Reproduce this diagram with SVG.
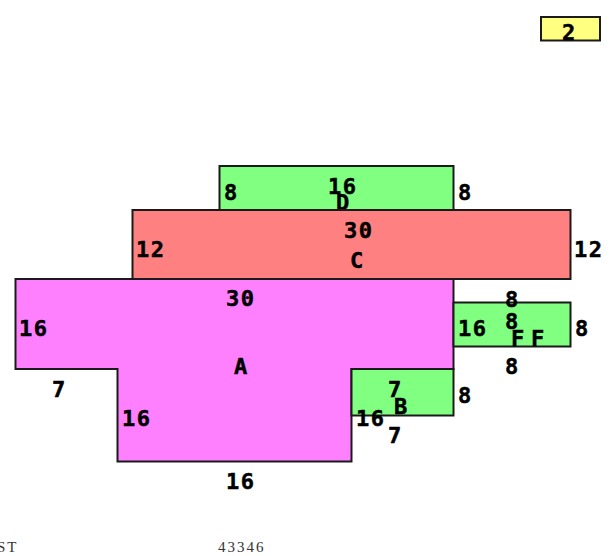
<svg xmlns="http://www.w3.org/2000/svg" width="613" height="556" viewBox="0 0 613 556">
<style>
.s{stroke:#1a1a1a;stroke-width:2}
.g{fill:#80ff80}.r{fill:#ff8080}.m{fill:#ff80ff}.y{fill:#ffff80}
text.t{font-family:"DejaVu Sans Mono",monospace;font-weight:700;font-size:22px;fill:#000;stroke:#000;stroke-width:.5px;letter-spacing:1.6px}
text.n{font-family:"Liberation Serif",serif;font-size:15px;fill:#333;letter-spacing:2px}
</style>
<rect width="613" height="556" fill="#fff"/>
<g id="node-D"><rect class="s g" x="219.5" y="166" width="234" height="44"/><text class="t" x="224" y="200">8</text><text class="t" x="328" y="194">16</text><text class="t" x="336" y="210">D</text><text class="t" x="458" y="200">8</text></g>
<g id="node-C"><rect class="s r" x="132.500" y="210" width="438" height="69"/><text class="t" x="344" y="238">30</text><text class="t" x="136" y="257">12</text><text class="t" x="350" y="268">C</text><text class="t" x="574" y="257">12</text></g>
<g id="node-A"><path class="s m" d="M15.5 279H453.5V369H351.5V461.5H117.5V369H15.5Z"/><text class="t" x="226" y="306">30</text><text class="t" x="19" y="336">16</text><text class="t" x="234" y="374">A</text><text class="t" x="52" y="397">7</text><text class="t" x="122" y="426">16</text><text class="t" x="226" y="489">16</text></g>
<g id="node-B"><rect class="s g" x="351.5" y="369" width="102" height="46.5"/><text class="t" x="388" y="397">7</text><text class="t" x="394" y="414">B</text><text class="t" x="356" y="426">16</text><text class="t" x="388" y="443">7</text><text class="t" x="458" y="403">8</text></g>
<g id="node-F"><rect class="s g" x="453.5" y="302.500" width="117" height="44"/><text class="t" x="505" y="307">8</text><text class="t" x="505" y="329">8</text><text class="t" x="458" y="336">16</text><text class="t" x="511" y="346">F</text><text class="t" x="531" y="346">F</text><text class="t" x="575" y="336">8</text><text class="t" x="505" y="374">8</text></g>
<g id="node-legend"><rect class="s y" x="541" y="17" width="59" height="23.500"/><text class="t" x="562" y="40">2</text></g>
<g id="connectors"/>
<text class="n" x="-3" y="552">ST</text>
<text class="n" x="218" y="552">43346</text>
</svg>
